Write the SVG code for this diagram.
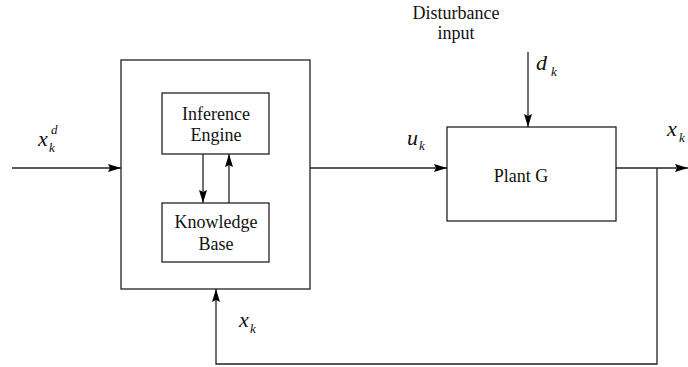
<svg xmlns="http://www.w3.org/2000/svg" width="688" height="367" viewBox="0 0 688 367">
<defs>
<marker id="ah" viewBox="0 0 13 8" refX="13" refY="4" markerWidth="13" markerHeight="8" markerUnits="userSpaceOnUse" orient="auto">
<path d="M0,0 L13,4 L0,8 L2,4 Z" fill="#000"/>
</marker>
</defs>
<style>
.box{fill:#fff;stroke:#222;stroke-width:1.3}
.ln{fill:none;stroke:#222;stroke-width:1.3}
.arr{fill:none;stroke:#222;stroke-width:1.3;marker-end:url(#ah)}
text{font-family:'Liberation Serif','DejaVu Serif','Times New Roman',serif;fill:#111}
.t{font-size:18px;text-anchor:middle}
.m{font-style:italic;font-size:22px}
.s{font-style:italic;font-size:13px}
</style>
<g id="controller">
<rect class="box" x="121" y="60" width="189" height="229"/>
</g>
<g id="inference-engine">
<rect class="box" x="162" y="93" width="107" height="61"/>
<text class="t" x="216" y="120">Inference</text>
<text class="t" x="216" y="141">Engine</text>
</g>
<g id="knowledge-base">
<rect class="box" x="162" y="203" width="107" height="59"/>
<text class="t" x="216" y="228">Knowledge</text>
<text class="t" x="216" y="250">Base</text>
</g>
<g id="plant">
<rect class="box" x="447" y="127" width="169" height="94"/>
<text class="t" x="521" y="182">Plant G</text>
</g>
<g id="disturbance">
<text class="t" x="456" y="19">Disturbance</text>
<text class="t" x="456" y="39">input</text>
</g>
<g id="connectors">
<line class="arr" x1="12" y1="168" x2="121" y2="168"/>
<line class="arr" x1="310" y1="168" x2="447" y2="168"/>
<line class="arr" x1="616" y1="168" x2="688" y2="168"/>
<line class="arr" x1="528" y1="52" x2="528" y2="127"/>
<line class="arr" x1="203" y1="154" x2="203" y2="203"/>
<line class="arr" x1="229" y1="203" x2="229" y2="154"/>
<path class="arr" d="M657,168 L657,364 L216,364 L216,289"/>
</g>
<g id="labels">
<text class="m" x="38" y="146">x</text><text class="s" x="49" y="152">k</text><text class="s" x="51" y="134">d</text>
<text class="m" x="407" y="145">u</text><text class="s" x="419" y="150">k</text>
<text class="m" x="536" y="70">d</text><text class="s" x="551" y="76">k</text>
<text class="m" x="667" y="136">x</text><text class="s" x="679" y="142">k</text>
<text class="m" x="239" y="327">x</text><text class="s" x="250" y="333">k</text>
</g>
</svg>
